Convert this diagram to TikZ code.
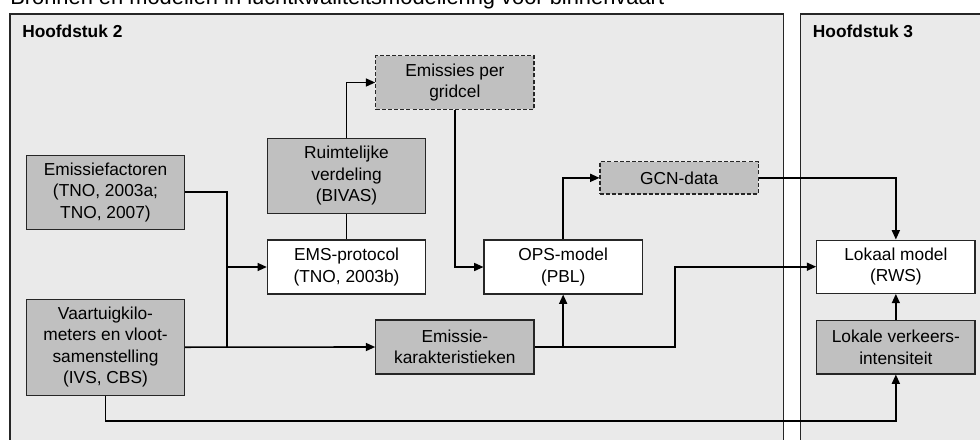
\documentclass[tikz,border=0pt]{standalone}
\usepackage{fontspec}
\setmainfont{Liberation Sans}
\usetikzlibrary{arrows.meta}
\definecolor{framebg}{RGB}{234,234,234}
\definecolor{boxgray}{RGB}{192,192,192}
\begin{document}
\begin{tikzpicture}[x=0.75pt,y=-0.75pt,
  box/.style={draw=black!85,line width=0.8pt,inner sep=0pt,align=center,
    font=\fontsize{13}{16.1}\selectfont,minimum width=118.7pt},
  gbox/.style={box,fill=boxgray},
  wbox/.style={box,fill=white},
  dbox/.style={gbox,dash pattern=on 3pt off 1.6pt},
  conn/.style={line width=1.2pt,black},
  arr/.style={conn,-{Triangle[length=7pt,width=6pt]}},
  frame/.style={fill=framebg,draw=black!85,line width=0.8pt},
  hd/.style={font=\fontsize{13}{15}\selectfont\bfseries,anchor=base west,inner sep=0pt}
]
\useasboundingbox (0,0) rectangle (980,439);
\fill[white] (0,0) rectangle (980,439);
% title (top cut off, as in the reference)
\node[anchor=base west,inner sep=0pt,font=\fontsize{16.4}{20}\selectfont] (title) at (10,4.5)
  {Bronnen en modellen in luchtkwaliteitsmodellering voor binnenvaart};
% frames
\draw[frame] (10,14) rectangle (783.3,470);
\draw[frame] (800.7,14) rectangle (1000,470);
\node[hd] (h2) at (22,37) {Hoofdstuk 2};
\node[hd] (h3) at (812.7,37) {Hoofdstuk 3};
% boxes
\node[gbox,minimum height=55.7pt] (emf) at (105.5,192.2) {Emissiefactoren\\(TNO, 2003a;\\TNO, 2007)};
\node[gbox,minimum height=71.8pt] (vaar) at (105.5,347.2) {Vaartuigkilo-\\meters en vloot-\\samenstelling\\(IVS, CBS)};
\node[gbox,minimum height=56.2pt] (ruim) at (346.5,175.8) {Ruimtelijke\\verdeling\\(BIVAS)};
\node[wbox,minimum height=40.5pt] (ems) at (346.5,267) {EMS-protocol\\(TNO, 2003b)};
\node[dbox,minimum height=40.2pt] (grid) at (454.85,82.5) {Emissies per\\gridcel};
\node[wbox,minimum height=40.5pt] (ops) at (563.15,267) {OPS-model\\(PBL)};
\node[dbox,minimum height=24.2pt] (gcn) at (679.15,177.85) {GCN-data};
\node[gbox,minimum height=40.5pt] (kar) at (454.85,347) {Emissie-\\karakteristieken};
\node[wbox,minimum height=40pt] (lok) at (895.85,266.7) {Lokaal model\\(RWS)};
\node[gbox,minimum height=40pt] (verk) at (895.85,347.3) {Lokale verkeers-\\intensiteit};
% coordinates
\coordinate (jv) at (226.7,347);
\coordinate (b1) at (105.5,421);
\coordinate (k1) at (675,347);
% connectors
\draw[conn] (emf.east) -| (jv);
\draw[arr] (vaar.east) -- (kar.west);
\draw[arr] (jv |- ems.west) -- (ems.west);
\draw[arr] (vaar.south) -- (b1) -| (verk.south);
\draw[arr] (ruim.north) |- (grid.west);
\draw[conn,line width=0.8pt] (ruim.south) -- (ems.north);
\draw[arr] (grid.south) |- (ops.west);
\draw[arr] (ops.north) |- (gcn.west);
\draw[arr] (gcn.east) -| (lok.north);
\draw[arr] (kar.east) -- (k1) |- (lok.west);
\draw[arr] (kar.east -| ops.south) -- (ops.south);
\draw[arr] (verk.north) -- (lok.south);
\end{tikzpicture}
\end{document}
